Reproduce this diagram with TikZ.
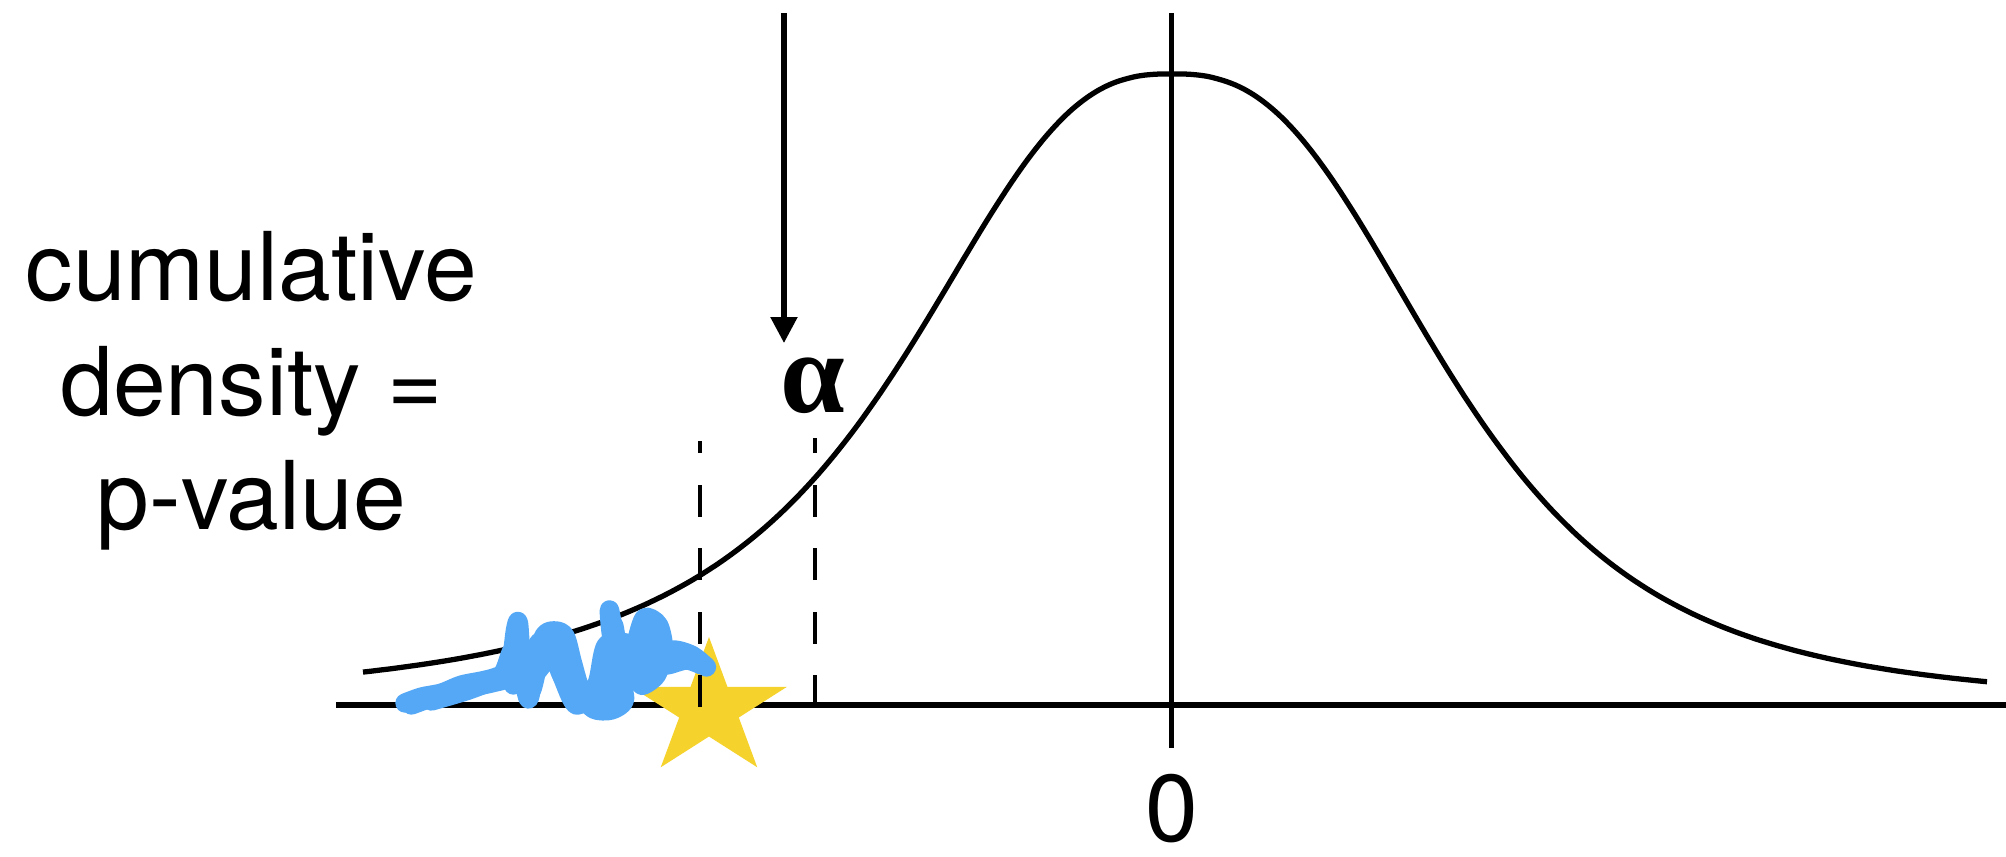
\documentclass[tikz,border=0pt]{standalone}
\usepackage{fontspec}
\setmainfont{TeX Gyre Heros}
\newfontfamily\greekfont{Liberation Serif}
\usetikzlibrary{arrows.meta}

\begin{document}
\begin{tikzpicture}
    \def\axisLeft{-8.355}
    \def\axisRight{8.345}
    \def\peak{6.31}

    \definecolor{scribbleColour}{HTML}{55A8F5}
    \definecolor{starColour}{HTML}{F5D22C}

    \tikzset{
        axisLine/.style={line width=1.6pt},
        curveLine/.style={line width=1.5pt, line join=round},
        cutLine/.style={line width=1.4pt, dash pattern=on 0.32cm off 0.315cm},
        pointer/.style={line width=1.5pt, -{Triangle[width=0.26cm, length=0.26cm]}},
        bigLabel/.style={inner sep=0pt, font=\fontsize{27}{32.6}\selectfont},
        scribble/.style={scribbleColour, line width=5.5pt, line cap=round, line join=round},
    }

    \useasboundingbox (-11.715,-1.51) rectangle (8.345,7.05);

    % Draw axes
    \draw[axisLine] (\axisLeft,0) -- (\axisRight,0);
    \draw[axisLine] (0,-0.43) -- (0,6.92);

    % Density curve (left tail a little heavier than the right one)
    \draw[curveLine]
        plot[domain=-8.085:0, samples=90, smooth] (\x, {\peak*(1+(-\x/3.106)^2.6)^(-1.15)})
        -- plot[domain=0:8.155, samples=90, smooth] (\x, {\peak*(1+(\x/3.424)^2.6)^(-1.4)});

    % Star for the test statistic
    \fill[starColour, shift={(-4.625,-0.04)}, xscale=1.14]
        (90:0.72) \foreach \k in {0,...,4} { -- ({126+72*\k}:0.275) -- ({162+72*\k}:0.72)} -- cycle;

    % Scribbled tail area
    \draw[scribble] plot[smooth, tension=0.5] coordinates {
        (-7.665,0.02) (-7.5,0.08) (-7.3,0.12) (-7.1,0.2) (-6.9,0.24) (-6.75,0.28)
        (-6.62,0.36) (-6.56,0.75) (-6.53,0.82) (-6.5,0.45) (-6.43,0.06) (-6.36,0.4)
        (-6.27,0.7) (-6.15,0.74) (-6.06,0.68) (-5.99,0.42) (-5.9,0.12) (-5.78,-0.04)
        (-5.6,-0.05) (-5.47,0.05) (-5.52,0.3) (-5.6,0.7) (-5.62,0.95) (-5.55,0.6)
        (-5.45,0.25) (-5.36,0.6) (-5.27,0.87) (-5.13,0.8) (-5.08,0.55) (-5.15,0.3)
        (-5.3,0.2) (-5.2,0.45) (-5.0,0.55) (-4.8,0.5) (-4.65,0.38)};
    \draw[scribble] plot[smooth, tension=0.5] coordinates {
        (-7.6,0.0) (-7.2,0.14) (-6.8,0.22) (-6.6,0.3) (-6.52,0.6) (-6.47,0.3)
        (-6.4,0.15) (-6.3,0.55) (-6.2,0.66) (-6.05,0.55) (-5.95,0.25) (-5.82,0.05)
        (-5.66,0.02) (-5.58,0.4) (-5.58,0.8) (-5.5,0.4) (-5.35,0.35) (-5.3,0.75)
        (-5.18,0.78) (-5.12,0.45) (-5.05,0.4) (-4.85,0.45) (-4.7,0.4)};
    \draw[scribble] plot[smooth, tension=0.5] coordinates {
        (-7.4,0.04) (-7.0,0.16) (-6.7,0.3) (-6.58,0.55) (-6.44,0.25) (-6.33,0.62)
        (-6.12,0.62) (-6.0,0.3) (-5.85,0.1) (-5.7,0.1) (-5.56,0.5) (-5.42,0.45)
        (-5.24,0.62) (-5.1,0.6) (-5.22,0.32) (-4.95,0.48) (-4.72,0.44)};
    \draw[scribble] plot[smooth, tension=0.5] coordinates {
        (-6.58,0.2) (-6.55,0.6) (-6.4,0.3) (-6.2,0.5) (-6.1,0.3) (-5.95,0.0)
        (-5.75,0.2) (-5.65,0.6) (-5.4,0.6) (-5.3,0.4) (-5.2,0.7) (-5.05,0.5)};

    % Cut-off lines
    \draw[cutLine] (-4.715,-0.02) -- (-4.715,2.64);
    \draw[cutLine] (-3.565,-0.02) -- (-3.565,2.67);

    % Alpha and its arrow
    \coordinate (arrowStart) at (-3.875,6.92);
    \coordinate (arrowEnd) at (-3.875,3.62);
    \draw[pointer] (arrowStart) -- (arrowEnd);
    \node[inner sep=0pt, font=\greekfont\bfseries\fontsize{33}{33}\selectfont] (alpha) at (-3.59,3.195) {α};

    % Labels
    \node[bigLabel, align=center] (pvalueText) at (-9.2,3.14) {cumulative\\density =\\p-value};
    \node[bigLabel, anchor=base] (zeroLabel) at (0,-1.36) {0};

\end{tikzpicture}
\end{document}
